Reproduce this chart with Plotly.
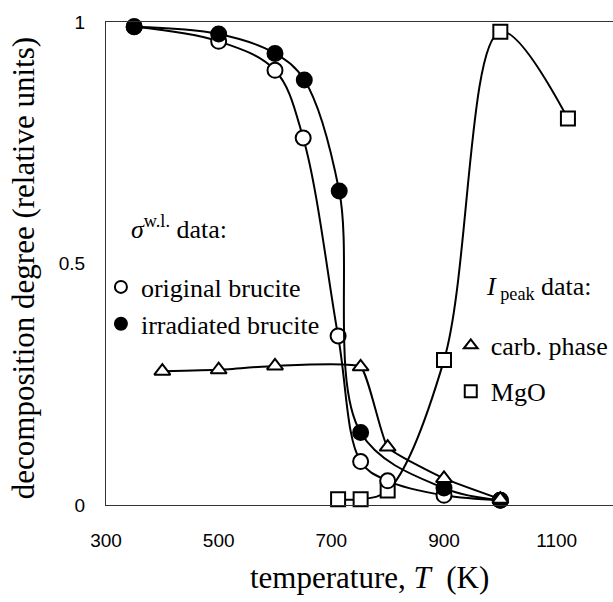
import plotly.graph_objects as go

# ---- data ----
T_orig = [350, 500, 600, 650, 712, 752, 800, 900, 1000]
d_orig = [0.99, 0.96, 0.90, 0.76, 0.35, 0.09, 0.05, 0.02, 0.01]

T_irr = [350, 500, 600, 652, 714, 752, 900, 1000]
d_irr = [0.99, 0.975, 0.935, 0.88, 0.65, 0.15, 0.035, 0.01]

T_carb = [400, 500, 600, 752, 800, 900, 1000]
d_carb = [0.277, 0.28, 0.288, 0.286, 0.12, 0.055, 0.012]

T_mgo = [712, 752, 800, 900, 1000, 1120]
d_mgo = [0.012, 0.012, 0.03, 0.30, 0.98, 0.80]

x_ticks = [300, 500, 700, 900, 1100]
y_ticks = [0, 0.5, 1]
y_ticktext = ["0", "0.5", "1"]

SERIF = "Times New Roman, Liberation Serif, serif"
SANS = "Arial, Liberation Sans, sans-serif"

STYLE = {
    "original brucite": ("circle", "white", "legend"),
    "irradiated brucite": ("circle", "black", "legend"),
    "carb. phase": ("triangle-up", "white", "legend2"),
    "MgO": ("square", "white", "legend2"),
}

fig = go.Figure()

def add_series(x, y, name, smooth=1.0):
    symbol, fill, _ = STYLE[name]
    fig.add_trace(go.Scatter(
        x=x, y=y, mode="lines+markers",
        line=dict(color="black", width=2, shape="spline", smoothing=smooth),
        showlegend=False,
        marker=dict(symbol=symbol, size=15 if "circle" in symbol else 14, color=fill,
                    line=dict(color="black", width=2)),
        cliponaxis=False))

# drawing order (later on top)
add_series(T_mgo, d_mgo, "MgO")
add_series(T_orig, d_orig, "original brucite")
add_series(T_irr, d_irr, "irradiated brucite")
add_series(T_carb, d_carb, "carb. phase", smooth=0.4)

# legend entries
for name in ["original brucite", "irradiated brucite", "carb. phase", "MgO"]:
    symbol, fill, leg = STYLE[name]
    fig.add_trace(go.Scatter(
        x=[None], y=[None], mode="markers", name=name, legend=leg, legendgroup=name,
        marker=dict(symbol=symbol, size=13, color=fill, line=dict(color="black", width=2.5))))

fig.update_layout(
    width=613, height=602,
    margin=dict(l=106, r=0, t=22, b=97),
    plot_bgcolor="white", paper_bgcolor="white",
    showlegend=True,
    legend=dict(x=-0.01, y=0.50, xanchor="left", yanchor="top",
                bgcolor="rgba(0,0,0,0)", font=dict(family=SERIF, size=26, color="black"),
                traceorder="grouped", tracegroupgap=0, itemsizing="constant"),
    legend2=dict(x=0.68, y=0.379, xanchor="left", yanchor="top",
                 bgcolor="rgba(0,0,0,0)", font=dict(family=SERIF, size=26, color="black"),
                 traceorder="grouped", tracegroupgap=9, itemsizing="constant"),
    xaxis=dict(range=[300, 1200], tickvals=x_ticks, showgrid=False, zeroline=False,
               showline=True, linecolor="#333", linewidth=1, mirror=True,
               ticks="", ticklabelstandoff=18,
               tickfont=dict(family=SANS, size=19, color="black")),
    yaxis=dict(range=[0, 1], tickvals=y_ticks, ticktext=y_ticktext, showgrid=False,
               zeroline=False, showline=True, linecolor="#333", linewidth=1, mirror=False,
               ticks="", ticklabelstandoff=16,
               tickfont=dict(family=SANS, size=19, color="black")),
    annotations=[
        dict(text="temperature, <i>T</i>  (K)", xref="paper", yref="paper",
             x=0.52, y=-0.151, xanchor="center", yanchor="middle", showarrow=False,
             font=dict(family=SERIF, size=31, color="black")),
        dict(text="decomposition degree (relative units)", xref="paper", yref="paper",
             x=-0.164, y=0.49, xanchor="center", yanchor="middle", showarrow=False,
             textangle=-90, font=dict(family=SERIF, size=31, color="black")),
        dict(text="<i>σ</i><sup>w.l.</sup> data:", xref="paper", yref="paper",
             x=0.045, y=0.575, xanchor="left", yanchor="middle", showarrow=False,
             font=dict(family=SERIF, size=26, color="black")),
        dict(text="<i>I</i><sub> peak</sub> data:", xref="paper", yref="paper",
             x=0.745, y=0.45, xanchor="left", yanchor="middle", showarrow=False,
             font=dict(family=SERIF, size=26, color="black")),
    ],
)

fig.write_html("out.html")
